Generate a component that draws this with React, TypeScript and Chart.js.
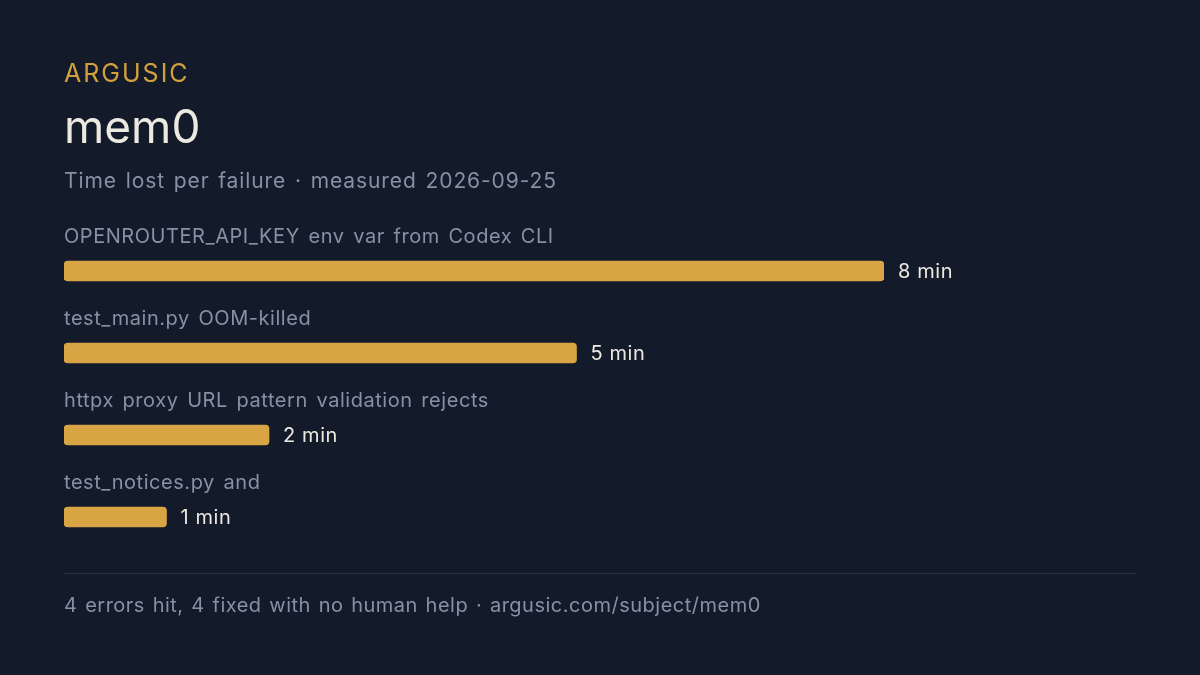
import React, { useEffect, useRef } from "react";
import { Chart, registerables } from "chart.js";

Chart.register(...registerables);

const brand = "ARGUSIC";
const subject = "mem0";
const subtitle = "Time lost per failure · measured 2026-09-25";
const footer = "4 errors hit, 4 fixed with no human help · argusic.com/subject/mem0";

const categories = [
  "OPENROUTER_API_KEY env var from Codex CLI",
  "test_main.py OOM-killed",
  "httpx proxy URL pattern validation rejects",
  "test_notices.py and",
];
const minutes = [8, 5, 2, 1];
const valueLabels = ["8 min", "5 min", "2 min", "1 min"];

const BG = "#131a2a";
const GOLD = "#d9a443";
const MUTED = "#8791a5";
const LIGHT = "#ece9e1";
const FONT = "Inter, 'Noto Sans', sans-serif";

const labelPlugin = {
  id: "rowLabels",
  afterDatasetsDraw(chart: any) {
    const ctx = chart.ctx;
    const meta = chart.getDatasetMeta(0);
    const left = chart.chartArea.left;
    ctx.save();
    ctx.textBaseline = "middle";
    ctx.textAlign = "left";
    meta.data.forEach((bar: any, i: number) => {
      ctx.font = `400 20px ${FONT}`;
      (ctx as any).letterSpacing = "0.55px";
      (ctx as any).wordSpacing = "2.5px";
      ctx.fillStyle = MUTED;
      ctx.fillText(categories[i], left, bar.y - 34);
      (ctx as any).letterSpacing = "0.6px";
      (ctx as any).wordSpacing = "0px";
      ctx.fillStyle = LIGHT;
      ctx.fillText(valueLabels[i], bar.x + 14, bar.y + 1);
    });
    ctx.restore();
  },
};

export default function App() {
  const canvasRef = useRef<HTMLCanvasElement | null>(null);

  useEffect(() => {
    const canvas = canvasRef.current;
    if (!canvas) return;
    const chart = new Chart(canvas, {
      type: "bar",
      data: {
        labels: categories,
        datasets: [
          {
            data: minutes,
            backgroundColor: GOLD,
            borderRadius: 4,
            borderSkipped: false,
            barThickness: 20,
          },
        ],
      },
      options: {
        indexAxis: "y",
        responsive: false,
        animation: false,
        maintainAspectRatio: false,
        layout: { padding: { left: 64, right: 316, top: 230, bottom: 117 } },
        plugins: {
          legend: { display: false },
          tooltip: { enabled: false },
          title: { display: false },
        },
        scales: {
          x: { display: false, min: 0, max: 8 },
          y: { display: false, offset: true },
        },
      },
      plugins: [labelPlugin],
    });
    return () => chart.destroy();
  }, []);

  return (
    <div
      style={{
        position: "fixed",
        left: 0,
        top: 0,
        width: 1200,
        height: 675,
        background: BG,
        fontFamily: FONT,
        overflow: "hidden",
      }}
    >
      <canvas
        ref={canvasRef}
        width={1200}
        height={675}
        style={{ position: "absolute", left: 0, top: 0, width: 1200, height: 675 }}
      />
      <div
        style={{
          position: "absolute",
          left: 64,
          top: 58,
          fontSize: 25,
          letterSpacing: 2,
          color: "#d4a03d",
          lineHeight: "30px",
        }}
      >
        {brand}
      </div>
      <div
        style={{
          position: "absolute",
          left: 64,
          top: 98,
          fontSize: 46,
          color: LIGHT,
          lineHeight: "56px",
        }}
      >
        {subject}
      </div>
      <div
        style={{
          position: "absolute",
          left: 64,
          top: 167,
          fontSize: 21,
          letterSpacing: 0.9,
          wordSpacing: 2,
          color: MUTED,
          lineHeight: "28px",
          whiteSpace: "nowrap",
        }}
      >
        {subtitle}
      </div>
      <div
        style={{
          position: "absolute",
          left: 64,
          top: 573,
          width: 1072,
          height: 1,
          background: "#283044",
        }}
      />
      <div
        style={{
          position: "absolute",
          left: 64,
          top: 591,
          fontSize: 20,
          letterSpacing: 0.5,
          wordSpacing: 1.6,
          color: MUTED,
          lineHeight: "28px",
          whiteSpace: "nowrap",
        }}
      >
        {footer}
      </div>
    </div>
  );
}
